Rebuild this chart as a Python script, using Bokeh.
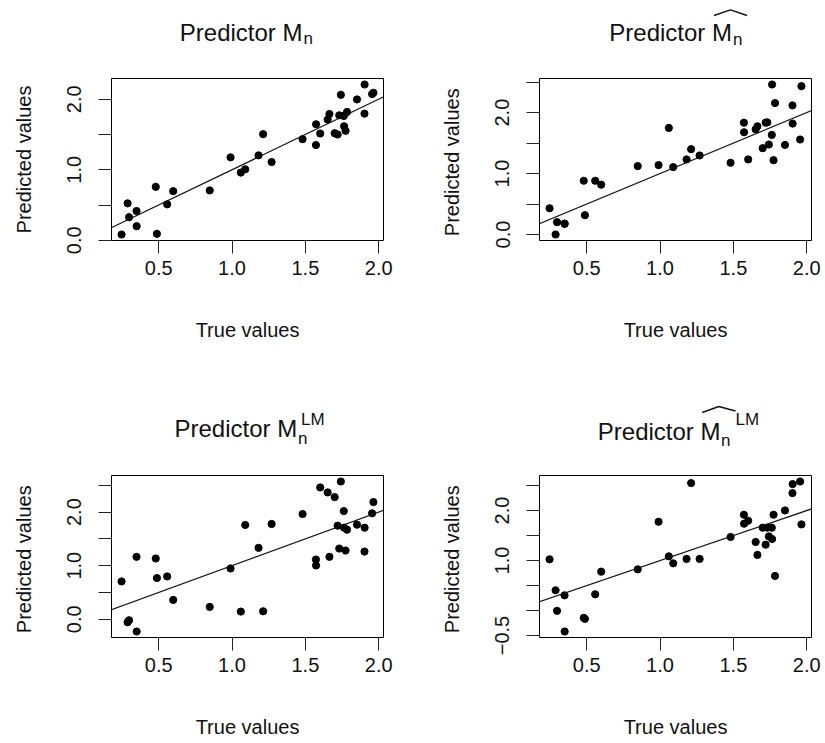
from bokeh.plotting import figure
from bokeh.models import Range1d, FixedTicker, Slope
from bokeh.layouts import column, row
from bokeh.core.properties import value
from bokeh.embed import file_html
from bokeh.resources import INLINE

# ---------------- data ----------------
true_values = [0.247, 0.288, 0.298, 0.349, 0.350, 0.480, 0.488, 0.558, 0.599, 0.848,
               0.990, 1.060, 1.090, 1.181, 1.212, 1.270, 1.481, 1.572, 1.573, 1.601,
               1.652, 1.664, 1.700, 1.720, 1.731, 1.742, 1.762, 1.764, 1.774, 1.784,
               1.852, 1.903, 1.904, 1.955, 1.964]

pred_Mn = [0.082, 0.524, 0.327, 0.415, 0.200, 0.758, 0.092, 0.510, 0.697, 0.707,
           1.176, 0.960, 1.007, 1.204, 1.505, 1.110, 1.434, 1.350, 1.645, 1.514,
           1.711, 1.791, 1.519, 1.500, 1.772, 2.063, 1.763, 1.617, 1.552, 1.820,
           1.997, 1.796, 2.209, 2.073, 2.092]

pred_Mn_hat = [0.431, 0.000, 0.203, 0.175, 0.180, 0.882, 0.317, 0.882, 0.817, 1.123,
               1.139, 1.749, 1.106, 1.232, 1.400, 1.297, 1.177, 1.836, 1.678, 1.232,
               1.727, 1.776, 1.417, 1.836, 1.840, 1.477, 1.634, 2.462, 1.220, 2.157,
               1.470, 2.119, 1.820, 1.559, 2.435]

pred_MnLM = [0.706, -0.056, -0.019, 1.165, -0.229, 1.134, 0.769, 0.799, 0.360, 0.230,
             0.948, 0.143, 1.760, 1.333, 0.149, 1.779, 1.965, 1.115, 1.004, 2.461,
             2.368, 1.165, 2.281, 1.747, 1.320, 2.572, 2.020, 1.710, 1.283, 1.673,
             1.766, 1.264, 1.710, 1.978, 2.188]

pred_Mn_hat_LM = [1.024, 0.405, -0.006, 0.305, -0.419, -0.146, -0.166, 0.325, 0.778, 0.824,
                  1.776, 1.084, 0.944, 1.032, 2.549, 1.032, 1.471, 1.916, 1.737, 1.796,
                  1.371, 1.112, 1.657, 1.317, 1.657, 1.483, 1.657, 1.431, 1.916, 0.692,
                  2.002, 2.349, 2.529, 2.581, 1.723]

x_ticks = [0.5, 1.0, 1.5, 2.0]
x_tick_labels = ["0.5", "1.0", "1.5", "2.0"]

y_ticks_1 = [0.0, 0.5, 1.0, 1.5, 2.0]
y_tick_labels_1 = ["0.0", "", "1.0", "", "2.0"]
y_ticks_2 = [0.0, 0.5, 1.0, 1.5, 2.0, 2.5]
y_tick_labels_2 = ["0.0", "", "1.0", "", "2.0", ""]
y_ticks_3 = [0.0, 0.5, 1.0, 1.5, 2.0, 2.5]
y_tick_labels_3 = ["0.0", "", "1.0", "", "2.0", ""]
y_ticks_4 = [-0.5, 0.0, 0.5, 1.0, 1.5, 2.0, 2.5]
y_tick_labels_4 = ["\u22120.5", "", "", "1.0", "", "2.0", ""]

x_label = "True values"
y_labels = ["Predicted values", "Predicted  values", "Predicted  values", "Predicted  values"]
title_main = "Predictor M"
title_sub = "n"
title_sup = "LM"

ref_slope = 1.0
ref_intercept = 0.0

FONT = "Liberation Sans"
INK = "#111111"


def r_range(v):
    lo, hi = min(v), max(v)
    d = 0.04 * (hi - lo)
    return Range1d(lo - d, hi + d)


def make_panel(yvals, yticks, yticklabels, ylabel, width, top_border, bottom_border):
    height = top_border + 162 + bottom_border
    p = figure(width=width, height=height, output_backend="svg", toolbar_location=None,
               x_range=r_range(true_values), y_range=r_range(yvals),
               min_border_left=111, min_border_right=width - 111 - 272,
               min_border_top=top_border, min_border_bottom=bottom_border)
    p.background_fill_color = "white"
    p.border_fill_color = "white"
    p.outline_line_color = "black"
    p.outline_line_width = 1
    p.grid.visible = False

    p.scatter(true_values, yvals, size=7.2, color="black")
    p.add_layout(Slope(gradient=ref_slope, y_intercept=ref_intercept,
                       line_color=INK, line_width=1.2))

    for ax in (p.xaxis[0], p.yaxis[0]):
        ax.axis_line_color = None
        ax.major_tick_line_color = "#222222"
        ax.major_tick_line_width = 1
        ax.major_tick_out = 13
        ax.major_tick_in = 0
        ax.minor_tick_line_color = None
        ax.major_label_text_font = FONT
        ax.major_label_text_font_size = "20px"
        ax.major_label_text_color = INK
        ax.axis_label_text_font = FONT
        ax.axis_label_text_font_size = "20px"
        ax.axis_label_text_font_style = "normal"
        ax.axis_label_text_color = INK

    xa = p.xaxis[0]
    xa.ticker = FixedTicker(ticks=x_ticks)
    xa.major_label_overrides = {t: l for t, l in zip(x_ticks, x_tick_labels)}
    xa.major_label_standoff = 7
    xa.axis_label = x_label
    xa.axis_label_standoff = 41

    ya = p.yaxis[0]
    ya.ticker = FixedTicker(ticks=yticks)
    ya.major_label_overrides = {t: l for t, l in zip(yticks, yticklabels)}
    ya.major_label_orientation = "vertical"
    ya.major_label_standoff = 17
    ya.axis_label = ylabel
    ya.axis_label_standoff = 30
    return p


def make_title_strip(width, height, pieces, hats):
    """pieces: (x, y_from_top, text, size, align) in pixels of this strip."""
    t = figure(width=width, height=height, output_backend="svg", toolbar_location=None,
               x_range=Range1d(0, width), y_range=Range1d(0, height), min_border=0)
    t.axis.visible = False
    t.grid.visible = False
    t.outline_line_color = None
    t.background_fill_color = "white"
    t.border_fill_color = "white"
    for (x, ytop, txt, size, align) in pieces:
        t.text(x=[x], y=[height - ytop], text=[txt], text_font=value(FONT),
               text_font_size=size, text_align=align, text_baseline="alphabetic",
               text_color=INK)
    for h in hats:
        t.line([q[0] for q in h], [height - q[1] for q in h], line_color=INK, line_width=1.4)
    return t


W_LEFT, W_RIGHT = 428, 393
W_ALL = W_LEFT + W_RIGHT
H_T1, H_T2 = 72, 64
ROW2 = 405  # page y where the second row's title strip starts

s1 = make_title_strip(W_ALL, H_T1, [
    (302, 32, title_main, "24px", "right"),
    (303, 38, title_sub, "17px", "left"),
    (731.5, 31.7, title_main, "24px", "right"),
    (732.5, 39, title_sub, "17px", "left"),
], hats=[[(713.5, 15), (730, 9.3), (746.5, 15)]])

s2 = make_title_strip(W_ALL, H_T2, [
    (296.7, 428 - ROW2, title_main, "24px", "right"),
    (297.5, 438 - ROW2, title_sub, "17px", "left"),
    (300.5, 418.5 - ROW2, title_sup, "17px", "left"),
    (720, 431 - ROW2, title_main, "24px", "right"),
    (720.5, 440 - ROW2, title_sub, "17px", "left"),
    (735, 419 - ROW2, title_sup, "17px", "left"),
], hats=[[(701.7, 412 - ROW2), (718.3, 406 - ROW2), (735, 410.5 - ROW2)]])

p1 = make_panel(pred_Mn, y_ticks_1, y_tick_labels_1, y_labels[0], W_LEFT, 6, 165)
p2 = make_panel(pred_Mn_hat, y_ticks_2, y_tick_labels_2, y_labels[1], W_RIGHT, 6, 165)
p3 = make_panel(pred_MnLM, y_ticks_3, y_tick_labels_3, y_labels[2], W_LEFT, 6, 104)
p4 = make_panel(pred_Mn_hat_LM, y_ticks_4, y_tick_labels_4, y_labels[3], W_RIGHT, 6, 104)

layout = column(s1, row(p1, p2), s2, row(p3, p4))

open("out.html", "w").write(file_html(layout, INLINE))
